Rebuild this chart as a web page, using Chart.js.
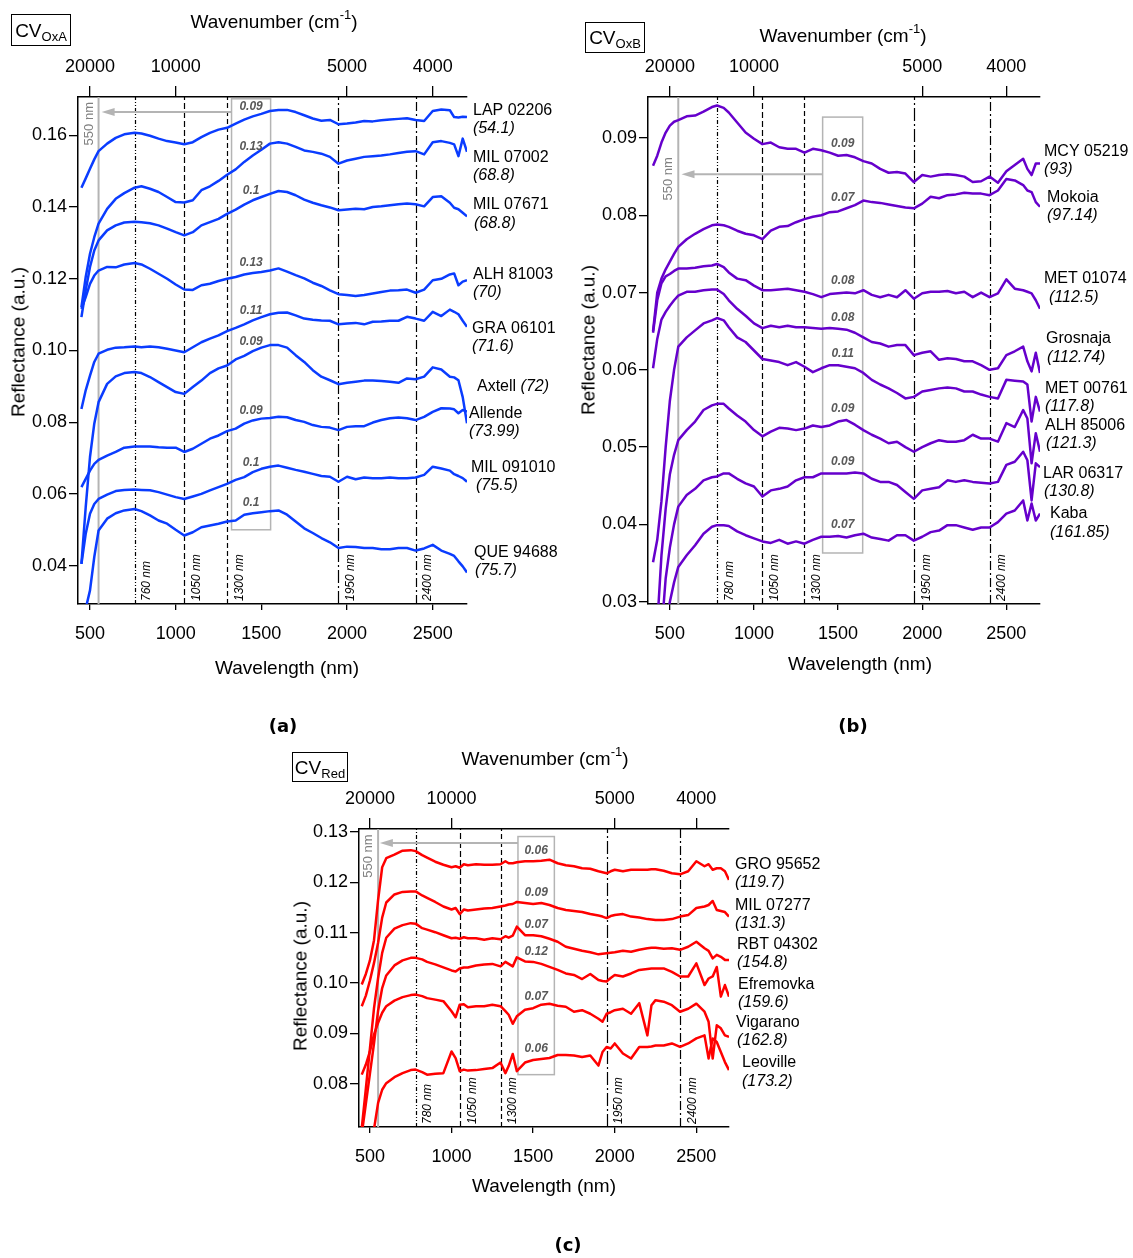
<!DOCTYPE html>
<html><head><meta charset="utf-8">
<script src="https://cdn.jsdelivr.net/npm/chart.js@4.4.1/dist/chart.umd.min.js"></script>
<style>
body{margin:0;background:#fff;}
#page{position:relative;width:1133px;height:1258px;overflow:hidden;background:#fff;font-family:"Liberation Sans",Arial,sans-serif;color:#000}
canvas{position:absolute}
.t{position:absolute;white-space:nowrap;transform:translate(-50%,-50%);font-size:19px;line-height:1}
.v{transform:translate(-50%,-50%) rotate(-90deg)}
.sup{font-size:13px;position:relative;top:-9px}
.box{position:absolute;border:1.5px solid #000;box-sizing:border-box;font-size:19px;display:flex;align-items:center;justify-content:center;line-height:1}
.box span{font-size:13px;position:relative;top:6px}
.pl{position:absolute;transform:translate(-50%,-50%);font-family:"DejaVu Sans",sans-serif;font-weight:bold;font-size:18px}
</style></head>
<body><div id="page">
<canvas id="cA" width="566" height="700" style="left:0;top:0"></canvas>
<canvas id="cB" width="563" height="700" style="left:570px;top:0"></canvas>
<canvas id="cC" width="560" height="460" style="left:280px;top:740px"></canvas>

<div class="box" style="left:11px;top:14px;width:60px;height:32px">CV<span>OxA</span></div>
<div class="box" style="left:585px;top:22px;width:60px;height:31px">CV<span>OxB</span></div>
<div class="box" style="left:292px;top:752px;width:56px;height:30px">CV<span>Red</span></div>

<div class="t" style="left:274px;top:21px">Wavenumber (cm<span class="sup">-1</span>)</div>
<div class="t" style="left:843px;top:35px">Wavenumber (cm<span class="sup">-1</span>)</div>
<div class="t" style="left:545px;top:758px">Wavenumber (cm<span class="sup">-1</span>)</div>

<div class="t" style="left:287px;top:667px">Wavelength (nm)</div>
<div class="t" style="left:860px;top:663px">Wavelength (nm)</div>
<div class="t" style="left:544px;top:1185px">Wavelength (nm)</div>

<div class="t v" style="left:18px;top:342px">Reflectance (a.u.)</div>
<div class="t v" style="left:588px;top:340px">Reflectance (a.u.)</div>
<div class="t v" style="left:300px;top:976px">Reflectance (a.u.)</div>

<div class="pl" style="left:283px;top:725px">(a)</div>
<div class="pl" style="left:853px;top:725px">(b)</div>
<div class="pl" style="left:568px;top:1244px">(c)</div>
</div>
<script>
// ---------- shared ticks ----------
const wavelengthTicks = [500, 1000, 1500, 2000, 2500];
const wavenumberTicks = [20000, 10000, 5000, 4000];

// ---------- panel (a) CV OxA ----------
const wavelengthA = [450,475,500,525,550,600,650,700,760,800,850,900,950,1000,1050,1100,1150,1200,1250,1300,1350,1400,1450,1500,1550,1600,1650,1700,1750,1800,1850,1900,1950,2000,2050,2100,2150,2200,2250,2300,2350,2400,2450,2500,2550,2600,2625,2650,2675,2700];
const samplesA = ['LAP 02206','MIL 07002','MIL 07671','ALH 81003','GRA 06101','Axtell','Allende','MIL 091010','QUE 94688'];
const notesA = ['(54.1)','(68.8)','(68.8)','(70)','(71.6)','(72)','(73.99)','(75.5)','(75.7)'];
const bandDepthA = ['0.09','0.13','0.1','0.13','0.11','0.09','0.09','0.1','0.1'];
const reflTicksA = [0.04,0.06,0.08,0.10,0.12,0.14,0.16];
const featuresA = [760,1050,1300,1950,2400];
const windowA = [1326,1554];
const lap02206 = [.1454,.1480,.1507,.1533,.1556,.1577,.1593,.1603,.1607,.1605,.1599,.1591,.1584,.1580,.1575,.1581,.1595,.1607,.1616,.1621,.1633,.1644,.1653,.1660,.1668,.1671,.1671,.1665,.1656,.1647,.1641,.1643,.1631,.1633,.1636,.1640,.1639,.1642,.1644,.1646,.1648,.1643,.1640,.1668,.1672,.1670,.1651,.1650,.1652,.1651];
const mil07002 = [.1121,.1205,.1270,.1316,.1354,.1395,.1423,.1439,.1454,.1458,.1451,.1442,.1428,.1414,.1413,.1419,.1447,.1458,.1473,.1490,.1505,.1526,.1544,.1560,.1577,.1581,.1577,.1568,.1558,.1554,.1549,.1540,.1521,.1530,.1535,.1540,.1542,.1544,.1547,.1551,.1554,.1556,.1547,.1581,.1584,.1579,.1575,.1542,.1591,.1554];
const mil07671 = [.1093,.1168,.1233,.1279,.1307,.1335,.1349,.1357,.1359,.1358,.1355,.1349,.1340,.1330,.1321,.1330,.1349,.1358,.1367,.1381,.1393,.1407,.1419,.1428,.1437,.1445,.1442,.1433,.1421,.1412,.1405,.1399,.1391,.1393,.1395,.1394,.1400,.1402,.1405,.1408,.1410,.1408,.1402,.1428,.1430,.1412,.1398,.1394,.1384,.1374];
const alh81003 = [.1116,.1149,.1186,.1209,.1223,.1233,.1232,.1240,.1244,.1240,.1228,.1214,.1200,.1184,.1170,.1169,.1182,.1186,.1194,.1200,.1205,.1212,.1216,.1219,.1223,.1229,.1220,.1210,.1201,.1189,.1180,.1168,.1157,.1155,.1152,.1155,.1159,.1163,.1167,.1168,.1170,.1161,.1170,.1196,.1200,.1212,.1215,.1182,.1192,.1196];
const gra06101 = [.0837,.0889,.0930,.0968,.0991,.1002,.1008,.1009,.1011,.1009,.1011,.1009,.1005,.1000,.0995,.1009,.1023,.1033,.1042,.1054,.1063,.1073,.1084,.1093,.1101,.1105,.1106,.1098,.1089,.1086,.1084,.1083,.1073,.1075,.1077,.1073,.1080,.1081,.1083,.1083,.1094,.1089,.1083,.1108,.1096,.1114,.1108,.1101,.1083,.1066];
const axtell = [.0405,.0563,.0703,.0796,.0856,.0907,.0928,.0937,.0940,.0937,.0926,.0912,.0898,.0884,.0879,.0898,.0916,.0937,.0950,.0958,.0975,.0985,.0998,.1008,.1015,.1015,.1008,.0987,.0968,.0945,.0927,.0917,.0906,.0910,.0913,.0916,.0916,.0915,.0913,.0910,.0922,.0920,.0927,.0953,.0947,.0927,.0925,.0917,.0870,.0797];
const allende = [.0619,.0642,.0665,.0684,.0695,.0707,.0717,.0729,.0732,.0732,.0732,.0730,.0729,.0729,.0717,.0726,.0740,.0754,.0763,.0775,.0782,.0796,.0805,.0810,.0812,.0815,.0814,.0806,.0801,.0792,.0787,.0785,.0778,.0787,.0789,.0789,.0799,.0806,.0811,.0813,.0811,.0806,.0815,.0829,.0839,.0838,.0836,.0825,.0834,.0830];
const mil091010 = [.0405,.0489,.0545,.0572,.0586,.0598,.0608,.0611,.0612,.0611,.0610,.0605,.0598,.0591,.0586,.0593,.0600,.0610,.0619,.0628,.0639,.0647,.0661,.0670,.0676,.0679,.0673,.0667,.0662,.0656,.0650,.0648,.0634,.0648,.0641,.0646,.0644,.0644,.0646,.0644,.0644,.0646,.0653,.0676,.0671,.0665,.0655,.0650,.0644,.0634];
const que94688 = [null,.0280,.0331,.0424,.0498,.0531,.0546,.0554,.0558,.0552,.0540,.0526,.0517,.0500,.0484,.0493,.0507,.0512,.0517,.0523,.0526,.0542,.0546,.0549,.0552,.0554,.0542,.0523,.0504,.0491,.0477,.0465,.0449,.0453,.0452,.0449,.0449,.0446,.0446,.0449,.0449,.0442,.0448,.0458,.0442,.0433,.0427,.0412,.0398,.0381];

// ---------- panel (b) CV OxB ----------
const wavelengthB = [400,425,450,475,500,525,550,600,650,700,750,780,820,850,900,950,1000,1050,1100,1150,1200,1250,1300,1350,1400,1450,1500,1550,1600,1650,1700,1750,1800,1850,1900,1950,2000,2050,2100,2150,2200,2250,2300,2350,2400,2450,2500,2550,2600,2625,2650,2675,2700];
const samplesB = ['MCY 05219','Mokoia','MET 01074','Grosnaja','MET 00761','ALH 85006','LAR 06317','Kaba'];
const notesB = ['(93)','(97.14)','(112.5)','(112.74)','(117.8)','(121.3)','(130.8)','(161.85)'];
const bandDepthB = ['0.09','0.07','0.08','0.08','0.11','0.09','0.09','0.07'];
const reflTicksB = [0.03,0.04,0.05,0.06,0.07,0.08,0.09];
const featuresB = [780,1050,1300,1950,2400];
const windowB = [1408,1646];
const mcy05219 = [.0864,.0877,.0894,.0907,.0916,.0921,.0923,.0928,.0929,.0934,.0940,.0942,.0939,.0933,.0920,.0907,.0899,.0892,.0894,.0888,.0886,.0886,.0881,.0886,.0884,.0881,.0877,.0878,.0875,.0870,.0867,.0860,.0855,.0856,.0854,.0843,.0852,.0850,.0852,.0853,.0852,.0850,.0843,.0844,.0850,.0842,.0857,.0865,.0873,.0860,.0852,.0867,.0867];
const mokoia = [.0650,.0700,.0718,.0730,.0740,.0750,.0759,.0769,.0776,.0782,.0787,.0788,.0787,.0785,.0780,.0776,.0774,.0769,.0780,.0785,.0786,.0791,.0795,.0798,.0800,.0804,.0805,.0809,.0813,.0819,.0817,.0816,.0814,.0812,.0810,.0809,.0815,.0824,.0822,.0826,.0827,.0829,.0828,.0828,.0826,.0832,.0847,.0845,.0839,.0832,.0830,.0817,.0811];
const met01074 = [.0648,.0690,.0712,.0721,.0724,.0728,.0731,.0731,.0732,.0734,.0735,.0737,.0733,.0726,.0718,.0716,.0709,.0703,.0703,.0704,.0705,.0703,.0701,.0698,.0694,.0698,.0699,.0700,.0699,.0703,.0697,.0694,.0697,.0694,.0703,.0692,.0699,.0701,.0701,.0702,.0699,.0701,.0694,.0700,.0694,.0699,.0717,.0705,.0703,.0701,.0699,.0690,.0679];
const grosnaja = [.0602,.0640,.0665,.0675,.0683,.0690,.0696,.0701,.0701,.0703,.0704,.0704,.0698,.0690,.0679,.0670,.0660,.0654,.0657,.0655,.0657,.0655,.0655,.0654,.0653,.0654,.0653,.0652,.0648,.0642,.0636,.0634,.0630,.0632,.0632,.0619,.0622,.0624,.0613,.0615,.0614,.0611,.0611,.0606,.0600,.0602,.0619,.0624,.0630,.0611,.0598,.0622,.0596];
const met00761 = [.0351,.0380,.0430,.0500,.0560,.0600,.0630,.0642,.0651,.0660,.0664,.0667,.0664,.0655,.0642,.0636,.0625,.0614,.0612,.0610,.0606,.0610,.0604,.0597,.0602,.0606,.0606,.0604,.0602,.0596,.0587,.0581,.0576,.0570,.0563,.0565,.0572,.0574,.0576,.0577,.0576,.0572,.0572,.0568,.0565,.0563,.0587,.0586,.0585,.0581,.0533,.0565,.0546];
const alh85006 = [null,.0270,.0360,.0420,.0465,.0490,.0509,.0522,.0533,.0548,.0554,.0556,.0556,.0550,.0541,.0533,.0522,.0514,.0520,.0525,.0524,.0522,.0524,.0528,.0526,.0528,.0533,.0535,.0529,.0522,.0516,.0511,.0505,.0507,.0500,.0494,.0500,.0505,.0509,.0507,.0507,.0509,.0516,.0511,.0511,.0507,.0531,.0526,.0548,.0537,.0479,.0518,.0494];
const lar06317 = [null,null,.0260,.0330,.0370,.0400,.0423,.0438,.0446,.0457,.0461,.0462,.0466,.0466,.0459,.0453,.0449,.0436,.0444,.0446,.0449,.0457,.0461,.0461,.0466,.0466,.0466,.0466,.0467,.0466,.0459,.0455,.0455,.0451,.0442,.0433,.0444,.0446,.0448,.0457,.0455,.0457,.0455,.0454,.0453,.0455,.0477,.0481,.0494,.0483,.0431,.0479,.0474];
const kaba = [null,null,null,.0270,.0300,.0325,.0345,.0360,.0373,.0388,.0397,.0399,.0399,.0398,.0391,.0386,.0382,.0378,.0376,.0380,.0375,.0378,.0375,.0380,.0384,.0384,.0385,.0383,.0386,.0388,.0383,.0381,.0379,.0386,.0386,.0379,.0384,.0390,.0392,.0399,.0399,.0396,.0393,.0396,.0396,.0403,.0414,.0418,.0431,.0405,.0427,.0405,.0414];

// ---------- panel (c) CV Red ----------
const wavelengthC = [450,475,500,525,550,575,600,650,700,750,780,820,850,900,950,1000,1025,1050,1075,1100,1150,1200,1250,1300,1330,1350,1375,1400,1450,1500,1550,1600,1650,1700,1750,1800,1850,1900,1925,1950,1975,2000,2050,2100,2150,2200,2225,2250,2300,2350,2400,2450,2500,2550,2575,2600,2625,2650,2675,2700];
const samplesC = ['GRO 95652','MIL 07277','RBT 04302','Efremovka','Vigarano','Leoville'];
const notesC = ['(119.7)','(131.3)','(154.8)','(159.6)','(162.8)','(173.2)'];
const bandDepthC = ['0.06','0.09','0.07','0.12','0.07','0.06'];
const reflTicksC = [0.08,0.09,0.10,0.11,0.12,0.13];
const featuresC = [780,1050,1300,1950,2400];
const windowC = [1407,1630];
const gro95652 = [.0997,.1018,.1045,.1085,.1165,.1230,.1248,.1255,.1263,.1264,.1262,.1254,.1249,.1241,.1235,.1230,.1232,.1229,.1236,.1234,.1236,.1235,.1235,.1236,.1242,.1238,.1238,.1240,.1242,.1242,.1243,.1245,.1238,.1234,.1232,.1228,.1227,.1222,.1220,.1218,.1222,.1225,.1222,.1225,.1225,.1225,.1226,.1226,.1223,.1218,.1216,.1222,.1242,.1232,.1236,.1225,.1228,.1228,.1222,.1205];
const mil07277 = [.0954,.0975,.1005,.1040,.1080,.1130,.1160,.1176,.1181,.1182,.1182,.1174,.1169,.1161,.1152,.1146,.1149,.1137,.1146,.1144,.1146,.1148,.1149,.1152,.1154,.1156,.1157,.1161,.1159,.1157,.1159,.1155,.1149,.1145,.1143,.1141,.1137,.1134,.1132,.1129,.1133,.1135,.1137,.1132,.1130,.1127,.1126,.1125,.1125,.1127,.1132,.1135,.1149,.1152,.1155,.1163,.1145,.1143,.1141,.1132];
const rbt04302 = [.0712,.0790,.0870,.0950,.1010,.1060,.1090,.1108,.1115,.1119,.1118,.1109,.1106,.1101,.1095,.1089,.1090,.1088,.1091,.1089,.1089,.1086,.1089,.1087,.1093,.1090,.1094,.1112,.1095,.1095,.1093,.1088,.1082,.1072,.1068,.1064,.1061,.1057,.1058,.1059,.1060,.1061,.1064,.1062,.1066,.1069,.1070,.1070,.1068,.1069,.1066,.1072,.1082,.1069,.1064,.1049,.1056,.1052,.1046,.1046];
const efremovka = [.0700,.0760,.0820,.0880,.0945,.0990,.1015,.1035,.1045,.1050,.1050,.1047,.1042,.1037,.1031,.1025,.1023,.1029,.1031,.1031,.1035,.1037,.1038,.1033,.1042,.1038,.1033,.1051,.1043,.1042,.1038,.1032,.1026,.1019,.1016,.1008,.1018,.1006,.1004,.1003,.1010,.1016,.1013,.1019,.1026,.1028,.1029,.1029,.1029,.1022,.1013,.1013,.1039,.0996,.1009,.1013,.1032,.0973,.0996,.0973];
const vigarano = [.0818,.0838,.0864,.0898,.0921,.0941,.0954,.0965,.0972,.0976,.0977,.0974,.0970,.0967,.0964,.0944,.0932,.0957,.0958,.0952,.0954,.0954,.0957,.0954,.0944,.0937,.0919,.0934,.0947,.0950,.0957,.0959,.0955,.0953,.0943,.0946,.0939,.0929,.0923,.0939,.0942,.0946,.0949,.0939,.0960,.0896,.0956,.0966,.0963,.0956,.0943,.0949,.0959,.0943,.0923,.0850,.0916,.0910,.0896,.0893];
const leoville = [null,null,null,.0710,.0762,.0788,.0801,.0813,.0821,.0827,.0828,.0823,.0818,.0820,.0821,.0864,.0851,.0825,.0828,.0826,.0827,.0829,.0831,.0842,.0821,.0835,.0859,.0825,.0842,.0847,.0849,.0851,.0857,.0857,.0856,.0853,.0856,.0836,.0863,.0873,.0870,.0880,.0860,.0850,.0873,.0873,.0874,.0876,.0876,.0880,.0873,.0880,.0890,.0896,.0850,.0890,.0883,.0863,.0843,.0827];

// ---------- drawing ----------
const FONT = '"Liberation Sans", Arial, sans-serif';
const GRAY = '#b4b4b4';
const DASHES = [[4,2,1,2,1,2],[6,3],[5,3],[13,3,2,3],[9,3,2,3]];

function interp(xs, ys, x) {
  for (let i = 0; i < xs.length - 1; i++) {
    if (x >= xs[i] && x <= xs[i + 1] && ys[i] != null && ys[i + 1] != null) {
      const t = (x - xs[i]) / (xs[i + 1] - xs[i]);
      return ys[i] + t * (ys[i + 1] - ys[i]);
    }
  }
  return null;
}

function rotText(ctx, txt, x, y) {
  ctx.save(); ctx.translate(x, y); ctx.rotate(-Math.PI / 2); ctx.fillText(txt, 0, 0); ctx.restore();
}

function annotPlugin(P) {
  return {
    id: 'annot_' + P.canvas,
    beforeDatasetsDraw(chart) {
      const ctx = chart.ctx, ca = chart.chartArea, xs = chart.scales.x, ys = chart.scales.y;
      ctx.save();
      ctx.beginPath(); ctx.rect(ca.left, ca.top, ca.right - ca.left, ca.bottom - ca.top); ctx.clip();
      P.features.forEach((nm, i) => {
        const px = Math.round(xs.getPixelForValue(nm)) + 0.5;
        ctx.strokeStyle = '#000'; ctx.lineWidth = 1.2; ctx.setLineDash(DASHES[i]);
        ctx.beginPath(); ctx.moveTo(px, ca.bottom); ctx.lineTo(px, ca.top); ctx.stroke();
      });
      ctx.setLineDash([]);
      const mx = xs.getPixelForValue(P.marker);
      ctx.strokeStyle = GRAY; ctx.lineWidth = 2;
      ctx.beginPath(); ctx.moveTo(mx, ca.bottom); ctx.lineTo(mx, ca.top); ctx.stroke();
      const bx0 = xs.getPixelForValue(P.window[0]), bx1 = xs.getPixelForValue(P.window[1]);
      const byTop = ys.getPixelForValue(P.windowRefl[1]), byBot = ys.getPixelForValue(P.windowRefl[0]);
      ctx.lineWidth = 1.5; ctx.strokeRect(bx0, byTop, bx1 - bx0, byBot - byTop);
      const ay = ys.getPixelForValue(P.arrowRefl), tip = xs.getPixelForValue(P.arrowTip);
      ctx.lineWidth = 2; ctx.beginPath(); ctx.moveTo(bx0, ay); ctx.lineTo(tip + 10, ay); ctx.stroke();
      ctx.fillStyle = GRAY; ctx.beginPath(); ctx.moveTo(tip, ay); ctx.lineTo(tip + 13, ay - 4); ctx.lineTo(tip + 13, ay + 4); ctx.closePath(); ctx.fill();
      ctx.restore();
    },
    afterDatasetsDraw(chart) {
      const ctx = chart.ctx, ca = chart.chartArea, xs = chart.scales.x, ys = chart.scales.y;
      ctx.save();
      ctx.textAlign = 'left'; ctx.textBaseline = 'middle';
      ctx.fillStyle = '#000'; ctx.font = 'italic 12px ' + FONT;
      P.features.forEach(nm => rotText(ctx, nm + ' nm', xs.getPixelForValue(nm) + 12.5, ca.bottom - 3));
      ctx.fillStyle = '#808080'; ctx.font = '13px ' + FONT;
      rotText(ctx, P.marker + ' nm', xs.getPixelForValue(P.marker) - 9.5, ys.getPixelForValue(P.markerLabelRefl));
      ctx.fillStyle = '#595959'; ctx.font = 'italic bold 12px ' + FONT; ctx.textAlign = 'center';
      const xc = (P.window[0] + P.window[1]) / 2;
      P.series.forEach((vals, i) => {
        const v = interp(P.grid, vals, xc);
        if (v != null) ctx.fillText(P.depths[i], xs.getPixelForValue(xc), ys.getPixelForValue(v) - P.depthOffset);
      });
      ctx.textAlign = 'left'; ctx.fillStyle = '#000';
      P.names.forEach((name, i) => {
        const yy = ys.getPixelForValue(P.labelRefl[i]);
        const x0 = ca.right + P.nameDx[i];
        ctx.font = '16px ' + FONT;
        ctx.fillText(name, x0, yy);
        if (P.noteDx[i] == null) {
          const w = ctx.measureText(name + ' ').width;
          ctx.font = 'italic 16px ' + FONT;
          ctx.fillText(P.notes[i], x0 + w, yy);
        } else {
          ctx.font = 'italic 16px ' + FONT;
          ctx.fillText(P.notes[i], ca.right + P.noteDx[i], yy + 18.5);
        }
      });
      ctx.restore();
    }
  };
}

function makePanel(P) {
  const datasets = P.series.map((vals, i) => ({
    label: P.names[i],
    data: P.grid.map((x, j) => ({ x: x, y: vals[j] })),
    borderColor: P.color, backgroundColor: P.color, borderWidth: 2.5,
    pointRadius: 0, fill: false, tension: 0, spanGaps: false, clip: 0,
    borderJoinStyle: 'round', xAxisID: 'x', yAxisID: 'y'
  }));
  const tickFont = { family: FONT, size: 18 };
  const axisGrid = len => ({ drawOnChartArea: false, drawTicks: true, tickLength: len, color: '#000', lineWidth: 1.3 });
  const border = { display: true, color: '#000', width: 1.5 };
  new Chart(document.getElementById(P.canvas), {
    type: 'line',
    data: { datasets },
    options: {
      responsive: false, animation: false, devicePixelRatio: 1, events: [],
      layout: { padding: { left: 0, top: 0, right: P.padRight, bottom: 0 } },
      plugins: { legend: { display: false }, tooltip: { enabled: false } },
      scales: {
        x: {
          type: 'linear', position: 'bottom', min: P.xMin, max: 2700,
          afterBuildTicks: s => { s.ticks = wavelengthTicks.map(v => ({ value: v })); },
          afterFit: s => { s.height = P.bottomH; },
          grid: axisGrid(6), border: border,
          ticks: { color: '#000', font: tickFont, padding: 13, maxRotation: 0, autoSkip: false, callback: v => String(v) }
        },
        xTop: {
          type: 'linear', position: 'top', axis: 'x', min: P.xMin, max: 2700,
          afterBuildTicks: s => { s.ticks = wavenumberTicks.map(w => ({ value: 1e7 / w })); },
          afterFit: s => { s.height = P.topH; },
          grid: axisGrid(11), border: border,
          ticks: { color: '#000', font: tickFont, padding: 8, maxRotation: 0, autoSkip: false, callback: v => String(Math.round(1e7 / v)) }
        },
        y: {
          type: 'linear', position: 'left', min: P.yMin, max: P.yMax,
          afterBuildTicks: s => { s.ticks = P.yTicks.map(v => ({ value: v })); },
          afterFit: s => { s.width = P.leftW; },
          grid: axisGrid(9), border: border,
          ticks: { color: '#000', font: tickFont, padding: 2, autoSkip: false, callback: v => Number(v).toFixed(2) }
        }
      }
    },
    plugins: [annotPlugin(P)]
  });
}

makePanel({
  canvas: 'cA', grid: wavelengthA,
  series: [lap02206, mil07002, mil07671, alh81003, gra06101, axtell, allende, mil091010, que94688],
  names: samplesA, notes: notesA, depths: bandDepthA, color: '#0a3cff',
  xMin: 430, yMin: 0.0293, yMax: 0.1707, yTicks: reflTicksA,
  leftW: 78, topH: 97, bottomH: 96, padRight: 99,
  features: featuresA, marker: 550, markerLabelRefl: 0.1572,
  window: windowA, windowRefl: [0.0500, 0.1702], arrowRefl: 0.1665, arrowTip: 568, depthOffset: 10.5,
  labelRefl: [0.1670, 0.1539, 0.1407, 0.1212, 0.1062, 0.0900, 0.0825, 0.0674, 0.0437],
  nameDx: [6, 6, 6, 6, 5, 10, 2, 4, 7], noteDx: [6, 6, 7, 6, 5, null, 2, 9, 8]
});

makePanel({
  canvas: 'cB', grid: wavelengthB,
  series: [mcy05219, mokoia, met01074, grosnaja, met00761, alh85006, lar06317, kaba],
  names: samplesB, notes: notesB, depths: bandDepthB, color: '#6600cc',
  xMin: 370, yMin: 0.0297, yMax: 0.0953, yTicks: reflTicksB,
  leftW: 78, topH: 97, bottomH: 96, padRight: 93,
  features: featuresB, marker: 550, markerLabelRefl: 0.0819,
  window: windowB, windowRefl: [0.0363, 0.0927], arrowRefl: 0.0853, arrowTip: 569, depthOffset: 12,
  labelRefl: [0.0883, 0.0823, 0.0718, 0.0640, 0.0576, 0.0528, 0.0466, 0.0414],
  nameDx: [4, 7, 4, 6, 5, 5, 3, 10], noteDx: [4, 7, 9, 7, 5, 6, 4, 10]
});

makePanel({
  canvas: 'cC', grid: wavelengthC,
  series: [gro95652, mil07277, rbt04302, efremovka, vigarano, leoville],
  names: samplesC, notes: notesC, depths: bandDepthC, color: '#ff0000',
  xMin: 433, yMin: 0.0714, yMax: 0.1306, yTicks: reflTicksC,
  leftW: 79, topH: 89, bottomH: 73, padRight: 111,
  features: featuresC, marker: 550, markerLabelRefl: 0.1209,
  window: windowC, windowRefl: [0.0818, 0.1291], arrowRefl: 0.1278, arrowTip: 561, depthOffset: 10.5,
  labelRefl: [0.1236, 0.1154, 0.1077, 0.0997, 0.0922, 0.0842],
  nameDx: [6, 6, 8, 9, 7, 13], noteDx: [6, 6, 8, 9, 8, 13]
});
</script>
</body></html>
